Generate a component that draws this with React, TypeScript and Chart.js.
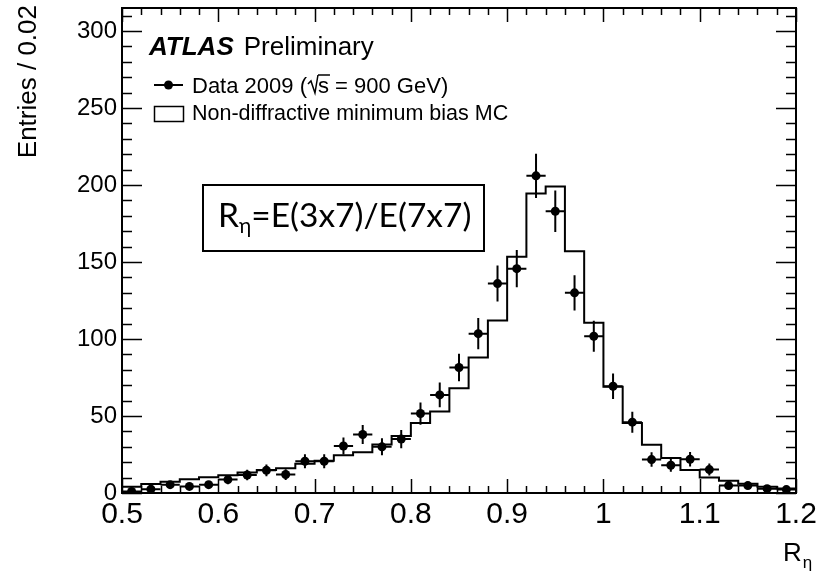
import { useEffect, useRef } from "react";
import { Chart, registerables } from "chart.js";

Chart.register(...registerables);

// R_eta bins (width 0.02) from 0.5 to 1.2
const binCentres = [
  0.51, 0.53, 0.55, 0.57, 0.59, 0.61, 0.63, 0.65, 0.67, 0.69, 0.71, 0.73,
  0.75, 0.77, 0.79, 0.81, 0.83, 0.85, 0.87, 0.89, 0.91, 0.93, 0.95, 0.97,
  0.99, 1.01, 1.03, 1.05, 1.07, 1.09, 1.11, 1.13, 1.15, 1.17, 1.19,
];
const binHalfWidth = 0.01;

// Data 2009, sqrt(s) = 900 GeV
const dataCounts = [
  1, 2.5, 5.4, 4.3, 5.4, 8.7, 11.7, 14.7, 12, 20.6, 20.6, 30.5, 38, 30, 35,
  51.6, 63.7, 81.5, 103.5, 136, 145.7, 206, 183, 130, 101.8, 69.3, 46, 21.7,
  18, 21.9, 15.2, 4.8, 4.8, 2.8, 2.2,
];
const dataErrors = [
  1, 1.6, 2.3, 2.1, 2.3, 3, 3.4, 3.8, 3.5, 4.5, 4.5, 5.5, 6.2, 5.5, 5.9, 7.2,
  8, 9, 10.2, 11.7, 12.1, 14.4, 13.5, 11.4, 10.1, 8.3, 6.8, 4.7, 4.2, 4.7,
  3.9, 2.2, 2.2, 1.7, 1.5,
];

// Non-diffractive minimum bias MC
const mcCounts = [
  4, 5.8, 7.3, 9, 10.2, 11.5, 13.3, 15, 16, 19, 21, 24.5, 26.5, 31.5, 37,
  45.5, 53, 68, 88, 112, 153.5, 194.5, 199, 157, 110.5, 69, 45.5, 31.4, 22.7,
  15, 10, 8, 6, 4, 3,
];

const xTickValues = [0.5, 0.6, 0.7, 0.8, 0.9, 1.0, 1.1, 1.2];
const xTickLabels = ["0.5", "0.6", "0.7", "0.8", "0.9", "1", "1.1", "1.2"];
const yTickValues = [0, 50, 100, 150, 200, 250, 300];
const yTickLabels = ["0", "50", "100", "150", "200", "250", "300"];

const X_MIN = 0.5;
const X_MAX = 1.2;
const Y_MIN = 0;
const Y_MAX = 315;

const SANS = "'Liberation Sans', Arial, Helvetica, sans-serif";
const BOX_FONT = "Lato, 'Open Sans', sans-serif";

const rootStyle = {
  id: "rootStyle",
  afterDatasetsDraw(chart: any) {
    const { ctx, chartArea: a, scales } = chart;
    const x = scales.x;
    const y = scales.y;
    ctx.save();
    ctx.beginPath();
    ctx.rect(a.left, a.top, a.right - a.left, a.bottom - a.top);
    ctx.clip();
    ctx.strokeStyle = "#000";
    ctx.lineWidth = 2;
    binCentres.forEach((c, i) => {
      const v = dataCounts[i];
      const e = dataErrors[i];
      const px = x.getPixelForValue(c);
      const py = y.getPixelForValue(v);
      ctx.beginPath();
      ctx.moveTo(x.getPixelForValue(c - binHalfWidth), py);
      ctx.lineTo(x.getPixelForValue(c + binHalfWidth), py);
      ctx.moveTo(px, y.getPixelForValue(v - e));
      ctx.lineTo(px, y.getPixelForValue(v + e));
      ctx.stroke();
    });
    ctx.restore();
  },
  afterDraw(chart: any) {
    const { ctx, chartArea: a, scales } = chart;
    const x = scales.x;
    const y = scales.y;
    ctx.save();
    ctx.strokeStyle = "#000";
    ctx.fillStyle = "#000";

    // frame
    ctx.lineWidth = 2;
    ctx.strokeRect(a.left, a.top, a.right - a.left, a.bottom - a.top);

    // inward ticks on all four sides
    ctx.lineWidth = 1.5;
    ctx.beginPath();
    for (let k = 0; k <= 35; k++) {
      const px = Math.round(x.getPixelForValue(X_MIN + k * 0.02)) + 0.5;
      const len = k % 5 === 0 ? 14 : 7;
      ctx.moveTo(px, a.bottom);
      ctx.lineTo(px, a.bottom - len);
      ctx.moveTo(px, a.top);
      ctx.lineTo(px, a.top + len);
    }
    for (let k = 0; k * 10 <= Y_MAX; k++) {
      const py = Math.round(y.getPixelForValue(k * 10)) + 0.5;
      const len = k % 5 === 0 ? 20 : 10;
      ctx.moveTo(a.left, py);
      ctx.lineTo(a.left + len, py);
      ctx.moveTo(a.right, py);
      ctx.lineTo(a.right - len, py);
    }
    ctx.stroke();

    // y axis title
    ctx.save();
    ctx.translate(36, a.top - 3);
    ctx.rotate(-Math.PI / 2);
    ctx.font = `26px ${SANS}`;
    ctx.textAlign = "right";
    ctx.textBaseline = "alphabetic";
    ctx.fillText("Entries / 0.02", 0, 0);
    ctx.restore();

    // x axis title R_eta
    ctx.textAlign = "left";
    ctx.textBaseline = "alphabetic";
    ctx.font = `26px ${SANS}`;
    const rx = a.right - 13;
    ctx.fillText("R", rx, 561);
    const rw = ctx.measureText("R").width;
    ctx.font = `17px ${SANS}`;
    ctx.fillText("η", rx + rw + 1, 568);

    // ATLAS Preliminary
    const lx = a.left + 27;
    ctx.font = `italic bold 26px ${SANS}`;
    ctx.fillText("ATLAS", lx, 55);
    const aw = ctx.measureText("ATLAS").width;
    ctx.font = `26px ${SANS}`;
    ctx.fillText("Preliminary", lx + aw + 10, 55);

    // legend: data marker
    const mx0 = a.left + 32;
    const mx1 = a.left + 61;
    ctx.lineWidth = 2;
    ctx.beginPath();
    ctx.moveTo(mx0, 85);
    ctx.lineTo(mx1, 85);
    ctx.stroke();
    ctx.beginPath();
    ctx.arc((mx0 + mx1) / 2, 85, 4.5, 0, Math.PI * 2);
    ctx.fill();

    const tx = a.left + 70;
    ctx.font = `22px ${SANS}`;
    let cx = tx;
    const part1 = "Data 2009 (";
    ctx.fillText(part1, cx, 93);
    cx += ctx.measureText(part1).width;
    // square-root sign over s
    ctx.lineWidth = 1.5;
    ctx.beginPath();
    ctx.moveTo(cx + 1, 84);
    ctx.lineTo(cx + 4, 81);
    ctx.lineTo(cx + 8, 93);
    ctx.lineTo(cx + 11, 75);
    ctx.stroke();
    cx += 11;
    const sw = ctx.measureText("s").width;
    ctx.beginPath();
    ctx.moveTo(cx, 75);
    ctx.lineTo(cx + sw + 1, 75);
    ctx.stroke();
    ctx.fillText("s", cx, 93);
    cx += sw;
    ctx.fillText(" = 900 GeV)", cx, 93);

    // legend: MC box
    ctx.lineWidth = 1.5;
    ctx.strokeRect(mx0 + 0.5, 106.5, mx1 - mx0, 15);
    ctx.font = `21.5px ${SANS}`;
    ctx.fillText("Non-diffractive minimum bias MC", tx, 120);

    // variable definition box
    ctx.lineWidth = 2;
    ctx.strokeRect(203, 185, 281, 66);
    ctx.font = `33.5px ${BOX_FONT}`;
    let bx = 218;
    ctx.fillText("R", bx, 227);
    bx += ctx.measureText("R").width;
    ctx.font = `21px ${BOX_FONT}`;
    ctx.fillText("η", bx, 233);
    bx += ctx.measureText("η").width;
    ctx.font = `33.5px ${BOX_FONT}`;
    ctx.fillText("=E(3x7)/E(7x7)", bx, 227);

    ctx.restore();
  },
};

export default function App() {
  const canvasRef = useRef<HTMLCanvasElement | null>(null);

  useEffect(() => {
    const canvas = canvasRef.current;
    if (!canvas) return;

    const mcPoints = binCentres.map((c, i) => ({ x: c - binHalfWidth, y: mcCounts[i] }));
    mcPoints.push({
      x: binCentres[binCentres.length - 1] + binHalfWidth,
      y: mcCounts[mcCounts.length - 1],
    });
    const dataPoints = binCentres.map((c, i) => ({ x: c, y: dataCounts[i] }));

    const chart = new Chart(canvas, {
      type: "scatter",
      data: {
        datasets: [
          {
            type: "line",
            label: "Non-diffractive minimum bias MC",
            data: mcPoints,
            stepped: true,
            borderColor: "#000",
            borderWidth: 2,
            pointRadius: 0,
            fill: false,
          } as any,
          {
            label: "Data 2009",
            data: dataPoints,
            pointRadius: 4.5,
            pointBackgroundColor: "#000",
            pointBorderWidth: 0,
          },
        ],
      },
      options: {
        responsive: false,
        animation: false,
        devicePixelRatio: 1,
        layout: { padding: { top: 8, right: 23, left: 0, bottom: 0 } },
        plugins: {
          legend: { display: false },
          tooltip: { enabled: false },
        },
        scales: {
          x: {
            type: "linear",
            min: X_MIN,
            max: X_MAX,
            grid: { display: false, drawTicks: false },
            border: { display: false },
            afterBuildTicks: (s: any) => {
              s.ticks = xTickValues.map((v) => ({ value: v }));
            },
            afterFit: (s: any) => {
              s.height = 85;
              s.paddingLeft = 0;
              s.paddingRight = 0;
            },
            ticks: {
              autoSkip: false,
              maxRotation: 0,
              padding: 4,
              color: "#000",
              font: { family: SANS, size: 30 },
              callback: (_v: any, i: number) => xTickLabels[i],
            },
          },
          y: {
            type: "linear",
            min: Y_MIN,
            max: Y_MAX,
            grid: { display: false, drawTicks: false },
            border: { display: false },
            afterBuildTicks: (s: any) => {
              s.ticks = yTickValues.map((v) => ({ value: v }));
            },
            afterFit: (s: any) => {
              s.width = 122;
              s.paddingTop = 0;
              s.paddingBottom = 0;
            },
            ticks: {
              autoSkip: false,
              padding: 5,
              color: "#000",
              font: { family: SANS, size: 24 },
              callback: (_v: any, i: number) => yTickLabels[i],
            },
          },
        },
      },
      plugins: [rootStyle],
    });

    return () => chart.destroy();
  }, []);

  return (
    <div style={{ position: "absolute", left: 0, top: 0, width: 819, height: 578, background: "#fff" }}>
      <canvas ref={canvasRef} width={819} height={578} style={{ display: "block" }} />
    </div>
  );
}
